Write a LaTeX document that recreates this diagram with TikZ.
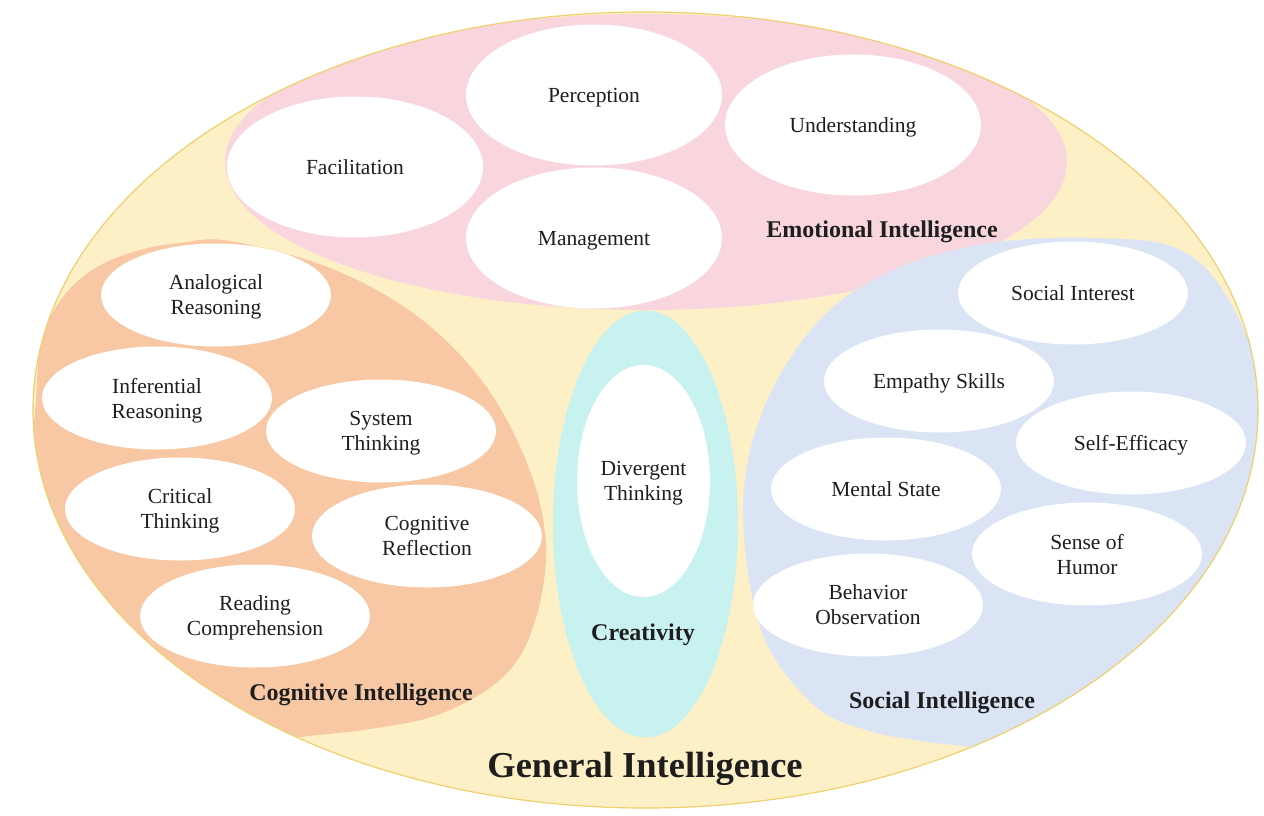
\documentclass[tikz,border=0pt]{standalone}
\usepackage{fontspec}
\setmainfont{Liberation Serif}
\usetikzlibrary{shapes.geometric,positioning}
\definecolor{genfill}{RGB}{253,240,198}
\definecolor{genline}{RGB}{238,208,110}
\definecolor{emofill}{RGB}{249,214,222}
\definecolor{cogfill}{RGB}{248,200,164}
\definecolor{socfill}{RGB}{218,228,244}
\definecolor{crefill}{RGB}{200,242,240}
\definecolor{txt}{RGB}{30,30,30}

\begin{document}
\begin{tikzpicture}[x=1pt,y=-1pt]
\tikzstyle{oval}=[ellipse,fill=white,inner sep=0pt,align=center,text=txt,text depth=-1pt,minimum width=230pt,minimum height=103pt,font=\fontsize{21.5}{25}\selectfont]
\tikzstyle{bigoval}=[oval,minimum width=256pt,minimum height=141pt]
\tikzstyle{group}=[text=txt,inner sep=0pt,text depth=-1pt,font=\fontsize{24}{28}\selectfont\bfseries]
\useasboundingbox (0,0) rectangle (1264,816);
\begin{scope}
\clip (645.5,410) ellipse [x radius=612.5pt,y radius=398pt];
\fill[genfill] (645.5,410) ellipse [x radius=612.5pt,y radius=398pt];
\fill[emofill] (646,162) ellipse [x radius=421pt,y radius=148pt];
\fill[cogfill] plot[smooth cycle,tension=0.6] coordinates {(36,400) (42,340) (63,297) (97,267) (140,250) (180,243) (230,241) (330,268) (417,316) (485,385) (530,471) (546,550) (533,627) (502,678) (440,714) (370,729) (300,737) (220,748) (100,700) (30,560)};
\fill[socfill] plot[smooth cycle,tension=0.6] coordinates {(1030,239) (1093,238) (1160,243) (1200,263) (1227,297) (1247,337) (1258,375) (1275,480) (1240,680) (1060,765) (975,748) (920,741) (866,730) (815,706) (764,638) (744,536) (750,451) (781,373) (832,308) (900,267) (968,247)};
\end{scope}
\fill[crefill] (645.5,524) ellipse [x radius=92.5pt,y radius=213.5pt];
\draw[genline,line width=1.2pt] (645.5,410) ellipse [x radius=612.5pt,y radius=398pt];

\node[bigoval] (facil) at (355,167) {Facilitation};
\node[bigoval] (percep) at (594,95) {Perception};
\node[bigoval] (underst) at (853,125) {Understanding};
\node[bigoval] (manage) at (594,238) {Management};
\node[group] (emolabel) at (882,229) {Emotional Intelligence};

\node[oval] (analog) at (216,295) {Analogical\\Reasoning};
\node[oval] (infer) at (157,398) {Inferential\\Reasoning};
\node[oval] (system) at (381,431) {System\\Thinking};
\node[oval] (critic) at (180,509) {Critical\\Thinking};
\node[oval] (reflect) at (427,536) {Cognitive\\Reflection};
\node[oval] (reading) at (255,616) {Reading\\Comprehension};
\node[group] (coglabel) at (361,692) {Cognitive Intelligence};

\node[oval,minimum width=133pt,minimum height=232pt] (diverg) at (643.5,481) {Divergent\\Thinking};
\node[group] (crelabel) at (643,632) {Creativity};

\node[oval] (interest) at (1073,293) {Social Interest};
\node[oval] (empathy) at (939,381) {Empathy Skills};
\node[oval] (efficacy) at (1131,443) {Self-Efficacy};
\node[oval] (mental) at (886,489) {Mental State};
\node[oval] (humor) at (1087,554) {Sense of\\Humor};
\node[oval] (behave) at (868,605) {Behavior\\Observation};
\node[group] (soclabel) at (942,700) {Social Intelligence};

\node[group,font=\fontsize{36.5}{40}\selectfont\bfseries] (genlabel) at (645,765) {General Intelligence};
\end{tikzpicture}
\end{document}
